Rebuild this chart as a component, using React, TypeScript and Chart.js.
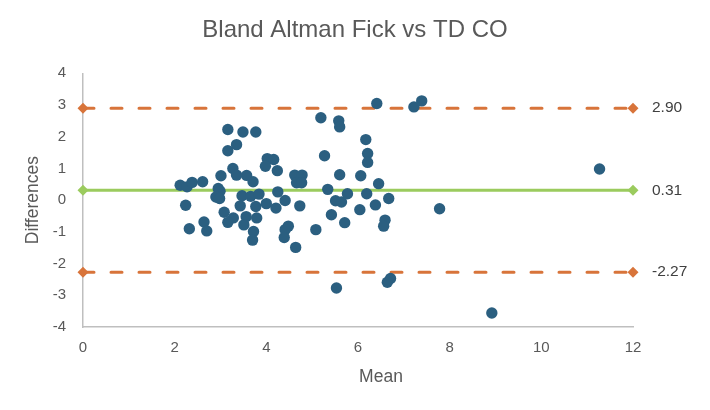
import { useEffect, useRef } from 'react';
import { Chart, registerables, type ChartConfiguration, type Plugin } from 'chart.js';

Chart.register(...registerables);

// Mean of the two methods (x) and their difference (y)
const meanValues: number[] = [
  2.12, 2.27, 2.38, 2.61, 2.24, 2.32, 2.64, 2.70, 2.95, 2.99,
  2.90, 2.98, 3.01, 3.16, 3.49, 3.77, 3.35, 3.16, 3.27, 3.35,
  3.57, 3.71, 4.02, 4.16, 3.98, 4.24, 4.25, 3.47, 3.66, 3.84,
  3.43, 3.77, 4.00, 4.21, 3.08, 3.28, 3.16, 3.56, 3.79, 3.51,
  3.72, 3.70, 4.41, 4.73, 4.48, 4.41, 4.39, 4.64, 4.62, 4.78,
  4.66, 4.77, 5.08, 5.19, 5.58, 5.60, 5.27, 5.60, 5.34, 5.51,
  5.64, 5.42, 5.71, 5.53, 6.41, 7.22, 7.39, 6.17, 6.21, 6.21,
  6.06, 6.45, 5.77, 6.19, 6.67, 6.38, 6.04, 6.59, 6.56, 6.71,
  6.64, 7.78, 11.27, 8.92,
];
const diffValues: number[] = [
  0.47, 0.42, 0.56, 0.58, -0.16, -0.90, -0.69, -0.97, 0.37, 0.28,
  0.10, 0.05, 0.77, 2.23, 2.15, 2.15, 1.75, 1.56, 1.00, 0.79,
  0.78, 0.58, 1.31, 1.28, 1.07, 0.93, 0.26, 0.14, 0.12, 0.19,
  -0.18, -0.20, -0.11, -0.25, -0.38, -0.56, -0.70, -0.52, -0.56, -0.78,
  -0.99, -1.26, -0.01, -0.18, -0.82, -0.93, -1.18, -1.49, 0.79, 0.79,
  0.55, 0.55, -0.93, 2.60, 2.50, 2.31, 1.40, 0.80, 0.34, -0.02,
  -0.06, -0.46, -0.71, -2.77, 3.05, 2.94, 3.13, 1.91, 1.47, 1.19,
  0.77, 0.52, 0.20, 0.20, 0.05, -0.15, -0.30, -0.63, -0.82, -2.47,
  -2.59, -0.27, 0.98, -3.56,
];

// upper limit of agreement, mean difference, lower limit of agreement
const limitValues: number[] = [2.90, 0.31, -2.27];
const limitLabels: string[] = ['2.90', '0.31', '-2.27'];
const limitColors: string[] = ['#D8743A', '#9BCB5E', '#D8743A'];
const limitDashed: boolean[] = [true, false, true];
const lineRange: number[] = [0, 12];

const FONT = '"Liberation Sans", Arial, sans-serif';
const TEXT = '#595959';

// value labels at the right end of the three lines, plus the x title
// (Excel put "Mean" a little right of the axis centre)
const labelPlugin: Plugin<'scatter'> = {
  id: 'limitLabels',
  afterDatasetsDraw(chart) {
    const { ctx, scales, chartArea } = chart;
    const x = scales.x.getPixelForValue(lineRange[1]) + 19;
    ctx.save();
    ctx.font = `15.5px ${FONT}`;
    ctx.fillStyle = '#404040';
    ctx.textAlign = 'left';
    ctx.textBaseline = 'middle';
    limitValues.forEach((v, i) => {
      ctx.fillText(limitLabels[i], x, scales.y.getPixelForValue(v));
    });
    ctx.font = `17.5px ${FONT}`;
    ctx.fillStyle = TEXT;
    ctx.textAlign = 'center';
    ctx.fillText('Mean', (chartArea.left + chartArea.right) / 2 + 23, chartArea.bottom + 50);
    ctx.restore();
  },
};

export default function App() {
  const canvasRef = useRef<HTMLCanvasElement>(null);
  const chartRef = useRef<Chart | null>(null);

  useEffect(() => {
    if (!canvasRef.current) return;

    const limitSets = limitValues.map((v, i) => ({
      label: limitLabels[i],
      data: lineRange.map((x) => ({ x, y: v })),
      showLine: true,
      clip: false as const,
      borderColor: limitColors[i],
      backgroundColor: limitColors[i],
      borderWidth: 3,
      borderDash: limitDashed[i] ? [11, 17] : [],
      borderCapStyle: 'round' as const,
      pointStyle: 'rectRot' as const,
      pointRadius: 5.5,
      pointHoverRadius: 5.5,
      pointBorderWidth: 0,
    }));

    const config: ChartConfiguration<'scatter'> = {
      type: 'scatter',
      data: {
        datasets: [
          {
            label: 'Differences',
            data: meanValues.map((m, i) => ({ x: m, y: diffValues[i] })),
            backgroundColor: '#2B5F80',
            borderWidth: 0,
            pointRadius: 5.7,
            pointHoverRadius: 5.7,
          },
          ...limitSets,
        ],
      },
      options: {
        responsive: true,
        maintainAspectRatio: false,
        animation: false,
        layout: { padding: 0 },
        scales: {
          x: {
            type: 'linear',
            min: 0,
            max: 12,
            afterFit: (s) => { s.height = 83; },
            grid: { display: false, drawTicks: false },
            border: { display: true, color: '#BFBFBF', width: 1.5 },
            ticks: { stepSize: 2, padding: 12, color: TEXT, font: { family: FONT, size: 15 } },
          },
          y: {
            type: 'linear',
            min: -4,
            max: 4,
            afterFit: (s) => { s.width = 83; },
            grid: { display: false, drawTicks: false },
            border: { display: true, color: '#BFBFBF', width: 1.5 },
            ticks: { stepSize: 1, padding: 17, color: TEXT, font: { family: FONT, size: 15 } },
            title: {
              display: true,
              text: 'Differences',
              color: TEXT,
              font: { family: FONT, size: 17.5 },
              padding: { top: 23, bottom: 0 },
            },
          },
          // empty right-hand strip that holds the limit labels
          yRight: {
            type: 'linear',
            position: 'right',
            min: -4,
            max: 4,
            afterFit: (s) => { s.width = 77; },
            grid: { display: false, drawTicks: false },
            border: { display: false },
            ticks: { display: false },
          },
        },
        plugins: {
          legend: { display: false },
          tooltip: { enabled: false },
          title: {
            display: true,
            text: 'Bland Altman Fick vs TD CO',
            color: TEXT,
            font: { family: FONT, size: 24, weight: 'normal' },
            padding: { top: 16, bottom: 28.5 },
          },
        },
      },
      plugins: [labelPlugin],
    };

    chartRef.current = new Chart(canvasRef.current, config);
    return () => { chartRef.current?.destroy(); chartRef.current = null; };
  }, []);

  return (
    <div style={{ position: 'absolute', left: 0, top: 0, width: 710, height: 410, background: '#fff' }}>
      <canvas ref={canvasRef} aria-label="Bland Altman Fick vs TD CO" role="img" />
    </div>
  );
}
